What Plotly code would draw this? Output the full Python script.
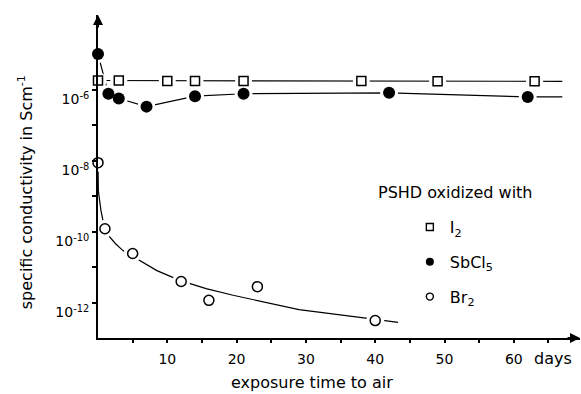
import plotly.graph_objects as go

# ---------------- data ----------------
# exposure time to air in days, specific conductivity in S/cm
i2_days = [0, 3, 10, 14, 21, 38, 49, 63]
i2_sigma = [1.8e-6, 1.8e-6, 1.75e-6, 1.75e-6, 1.75e-6, 1.75e-6, 1.7e-6, 1.7e-6]

sbcl5_days = [0, 1.5, 3, 7, 14, 21, 42, 62]
sbcl5_sigma = [1.0e-5, 7.6e-7, 5.6e-7, 3.3e-7, 6.5e-7, 7.6e-7, 8.1e-7, 6.2e-7]

br2_days = [0, 1, 5, 12, 16, 23, 40]
br2_sigma = [8.7e-9, 1.2e-10, 2.4e-11, 3.9e-12, 1.15e-12, 2.8e-12, 3.1e-13]

# guide lines drawn through the data in the original figure
i2_guide_days = [0, 67]
i2_guide_sigma = [1.8e-6, 1.7e-6]

sbcl5_guide_days = [0, 1.5, 3, 7, 14, 21, 42, 62, 67]
sbcl5_guide_sigma = [1.0e-5, 7.6e-7, 5.6e-7, 3.3e-7, 6.5e-7, 7.6e-7, 8.1e-7, 6.2e-7, 6.2e-7]

br2_guide_days = [0, 0.05, 0.43, 0.77, 1.5, 2.5, 3.6, 5.0, 8.5, 11.8, 15.6, 19.5, 24.2, 29.0, 39.2, 43.3]
br2_guide_sigma = [8.7e-9, 1.4e-9, 3.9e-10, 1.8e-10, 7.8e-11, 4.6e-11, 2.9e-11, 2.0e-11,
                   7.9e-12, 4.2e-12, 2.45e-12, 1.6e-12, 1.0e-12, 6.3e-13, 3.5e-13, 2.75e-13]

x_tick_vals = [5, 10, 15, 20, 25, 30, 35, 40, 45, 50, 55, 60, 65]
x_tick_text = ["", "10", "", "20", "", "30", "", "40", "", "50", "", "60", ""]

y_tick_vals = [1e-12, 1e-11, 1e-10, 1e-9, 1e-8, 1e-7, 1e-6]
y_tick_text = ["10<sup>-12</sup>", "", "10<sup>-10</sup>", "", "10<sup>-8</sup>", "", "10<sup>-6</sup>"]

legend_names = ["I<sub>2</sub>", "SbCl<sub>5</sub>", "Br<sub>2</sub>"]

FONT = "DejaVu Sans"
BLACK = "black"

fig = go.Figure()

# guide lines
for gx, gy in [(i2_guide_days, i2_guide_sigma),
               (sbcl5_guide_days, sbcl5_guide_sigma),
               (br2_guide_days, br2_guide_sigma)]:
    fig.add_trace(go.Scatter(x=gx, y=gy, mode="lines", line=dict(color=BLACK, width=1.2),
                             showlegend=False, hoverinfo="skip", cliponaxis=False))

# white halos so the lines stop short of the symbols
for dx, dy, s in [(i2_days, i2_sigma, 17), (sbcl5_days, sbcl5_sigma, 18), (br2_days, br2_sigma, 18)]:
    fig.add_trace(go.Scatter(x=dx, y=dy, mode="markers",
                             marker=dict(symbol="circle", size=s, color="white"),
                             showlegend=False, hoverinfo="skip", cliponaxis=False))

# data symbols
fig.add_trace(go.Scatter(x=i2_days, y=i2_sigma, mode="markers", name=legend_names[0],
                         showlegend=False,
                         marker=dict(symbol="square-open", size=9, color=BLACK, line=dict(width=1.5)),
                         cliponaxis=False))
fig.add_trace(go.Scatter(x=sbcl5_days, y=sbcl5_sigma, mode="markers", name=legend_names[1],
                         showlegend=False,
                         marker=dict(symbol="circle", size=12, color=BLACK),
                         cliponaxis=False))
fig.add_trace(go.Scatter(x=br2_days, y=br2_sigma, mode="markers", name=legend_names[2],
                         showlegend=False,
                         marker=dict(symbol="circle-open", size=10, color=BLACK, line=dict(width=1.5)),
                         cliponaxis=False))

# legend entries (smaller symbols, as in the original key)
legend_markers = [
    dict(symbol="square-open", size=7, color=BLACK, line=dict(width=1.4)),
    dict(symbol="circle", size=8, color=BLACK),
    dict(symbol="circle-open", size=7, color=BLACK, line=dict(width=1.4)),
]
for i, (nm, mk) in enumerate(zip(legend_names, legend_markers)):
    fig.add_trace(go.Scatter(x=[None], y=[None], mode="markers", name=nm,
                             legendgroup=f"g{i}", marker=mk, showlegend=True))

fig.update_layout(
    width=581, height=394, autosize=False,
    margin=dict(l=98, r=1, t=15, b=56),
    paper_bgcolor="white", plot_bgcolor="white",
    font=dict(family=FONT, size=16, color=BLACK),
    showlegend=True,
    legend=dict(x=0.647, y=0.396, xanchor="left", yanchor="top",
                bgcolor="rgba(0,0,0,0)", tracegroupgap=11,
                font=dict(family=FONT, size=16, color=BLACK)),
    xaxis=dict(range=[0, 69.55], showgrid=False, zeroline=False,
               showline=True, linewidth=2, linecolor=BLACK,
               ticks="outside", ticklen=3, tickwidth=1.5, tickcolor=BLACK,
               tickvals=x_tick_vals, ticktext=x_tick_text,
               tickfont=dict(family=FONT, size=14), ticklabelstandoff=4),
    yaxis=dict(type="log", range=[-13, -3.9], showgrid=False, zeroline=False,
               showline=True, linewidth=2, linecolor=BLACK,
               ticks="outside", ticklen=4, tickwidth=1.5, tickcolor=BLACK,
               tickvals=y_tick_vals, ticktext=y_tick_text, ticklabelshift=10,
               tickfont=dict(family=FONT, size=14)),
    annotations=[
        dict(text="specific conductivity in Scm<sup>-1</sup>", textangle=-90,
             xref="paper", yref="paper", x=-0.151, y=0.452,
             xanchor="center", yanchor="middle", showarrow=False,
             font=dict(family=FONT, size=16)),
        dict(text="exposure time to air", xref="paper", yref="paper",
             x=0.443, y=-0.139, xanchor="center", yanchor="middle", showarrow=False,
             font=dict(family=FONT, size=16)),
        dict(text="days", xref="paper", yref="paper",
             x=0.944, y=-0.062, xanchor="center", yanchor="middle", showarrow=False,
             font=dict(family=FONT, size=16)),
        dict(text="PSHD oxidized with", xref="paper", yref="paper",
             x=0.577, y=0.452, xanchor="left", yanchor="middle", showarrow=False,
             font=dict(family=FONT, size=16)),
        # axis arrow heads
        dict(text="", xref="paper", yref="paper", x=1, y=0, ax=-14, ay=0,
             showarrow=True, arrowhead=2, arrowsize=1, arrowwidth=2, arrowcolor=BLACK, standoff=0),
        dict(text="", xref="paper", yref="paper", x=0, y=1, ax=0, ay=14,
             showarrow=True, arrowhead=2, arrowsize=1, arrowwidth=2, arrowcolor=BLACK, standoff=0),
    ],
)

fig.write_html("out.html")
